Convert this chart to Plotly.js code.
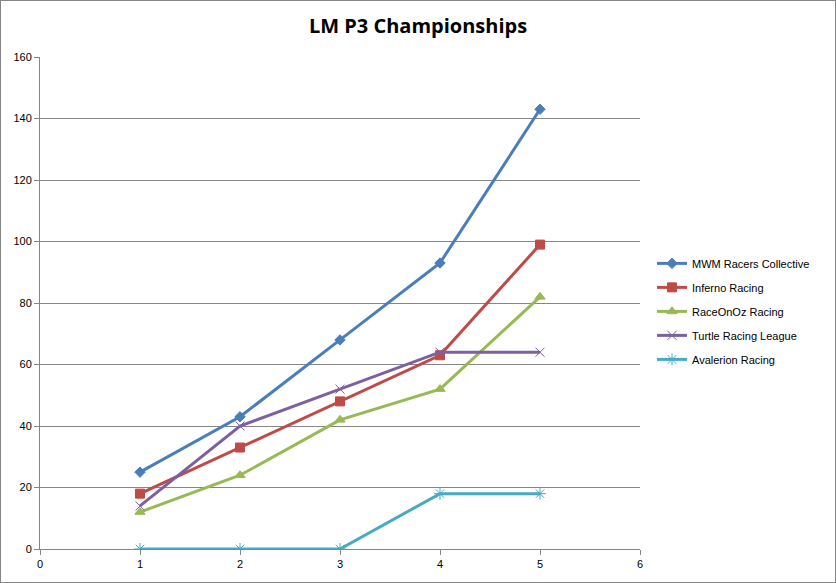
<!DOCTYPE html>
<html><head><meta charset="utf-8">
<script src="https://cdn.plot.ly/plotly-3.0.1.min.js"></script>
<style>html,body{margin:0;padding:0;background:#fff}#wrap{position:relative;width:836px;height:583px}#frame{position:absolute;left:0;top:0;width:836px;height:583px;box-sizing:border-box;border:1px solid #868686;pointer-events:none}</style>
</head><body><div id="wrap"><div id="chart"></div><div id="frame"></div></div>
<script>
const rounds = [1, 2, 3, 4, 5];
const seriesNames = ["MWM Racers Collective", "Inferno Racing", "RaceOnOz Racing", "Turtle Racing League", "Avalerion Racing"];
const mwm = [25, 43, 68, 93, 143];
const inferno = [18, 33, 48, 63, 99];
const raceOnOz = [12, 24, 42, 52, 82];
const turtle = [14, 40, 52, 64, 64];
const avalerion = [0, 0, 0, 18, 18];
const values = [mwm, inferno, raceOnOz, turtle, avalerion];
const colors = ["#4A7EBB", "#BE4B48", "#98B954", "#7D60A0", "#46AAC5"];
const symbols = ["diamond", "square", "triangle-up", "x-thin-open", "asterisk-open"];
const sizes = [8, 9, 9, 9, 10];
const xTicks = [0, 1, 2, 3, 4, 5, 6];
const yTicks = [0, 20, 40, 60, 80, 100, 120, 140, 160];

const traces = values.map((v, i) => ({
  x: rounds, y: v, name: seriesNames[i], type: "scatter", mode: "lines+markers",
  legendgroup: "g" + i,
  line: {color: colors[i], width: 3},
  marker: {symbol: symbols[i], size: sizes[i], color: colors[i], line: {color: colors[i], width: 1}}
}));

const font = {family: "Liberation Sans, Arial, sans-serif", size: 11, color: "#000"};
const layout = {
  width: 836, height: 583,
  margin: {l: 40, r: 196, t: 57, b: 34},
  paper_bgcolor: "#fff", plot_bgcolor: "#fff",
  title: {text: "<b>LM P3 Championships</b>", x: 0.5, xanchor: "center", y: 0.955, yanchor: "middle",
          font: {family: "Open Sans, Liberation Sans, sans-serif", size: 20, color: "#000"}},
  font: font,
  xaxis: {range: [0, 6], tickvals: xTicks, showgrid: false, zeroline: false,
          showline: true, linecolor: "#868686", linewidth: 1, ticks: "outside", ticklen: 5, tickcolor: "#868686",
          tickfont: font},
  yaxis: {range: [0, 160], tickvals: yTicks, showgrid: true, gridcolor: "#868686", gridwidth: 1, zeroline: false,
          showline: true, linecolor: "#868686", linewidth: 1, ticks: "outside", ticklen: 5, tickcolor: "#868686",
          tickfont: font},
  legend: {x: 1.02, xanchor: "left", y: 0.61, yanchor: "top", font: font, tracegroupgap: 5,
           itemwidth: 30, bgcolor: "rgba(0,0,0,0)"},
  showlegend: true
};
Plotly.newPlot("chart", traces, layout, {displayModeBar: false, staticPlot: true});
</script></body></html>
